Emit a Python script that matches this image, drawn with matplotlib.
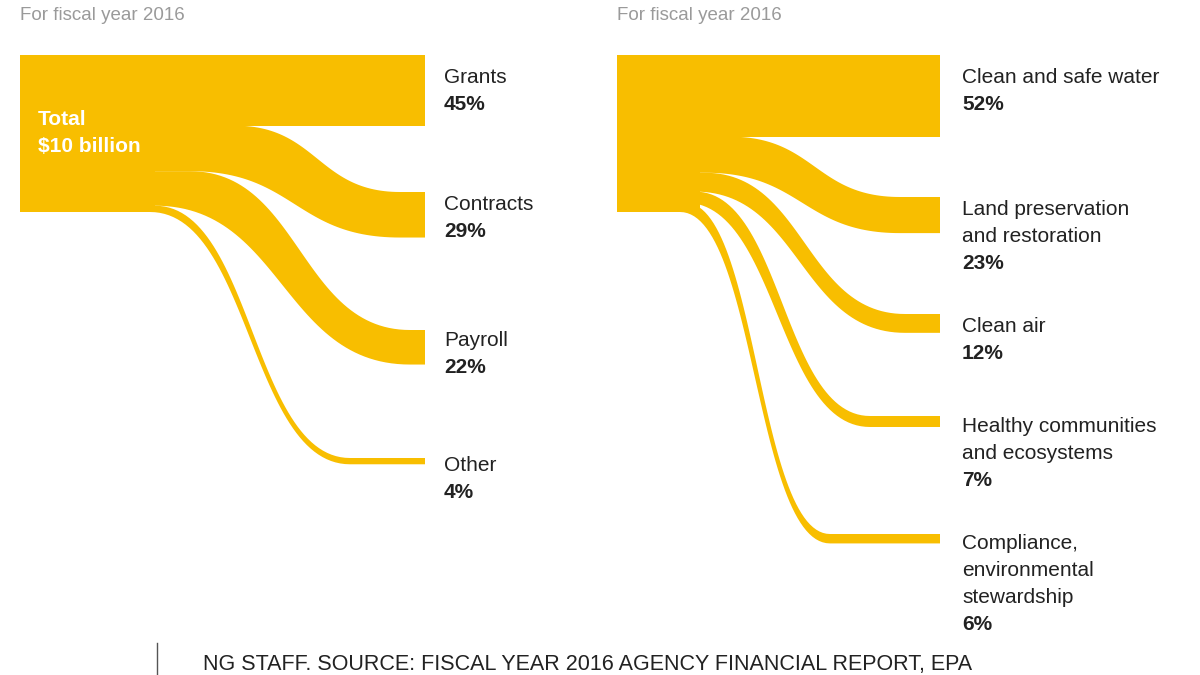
import numpy as np
import matplotlib.pyplot as plt

plt.rcParams['font.family'] = ['Liberation Sans', 'DejaVu Sans']
gold = '#F8BE00'

# data
left_names = ['Grants', 'Contracts', 'Payroll', 'Other']
left_shares = [45, 29, 22, 4]
right_names = ['Clean and safe water', 'Land preservation\nand restoration', 'Clean air',
               'Healthy communities\nand ecosystems', 'Compliance,\nenvironmental\nstewardship']
right_shares = [52, 23, 12, 7, 6]

# layout (pixel space)
top, H = 55, 157
left = dict(x0=20, xblock=155, xend=425, ends=[55, 192, 330, 458],
            xs_top=[None, 235, 190, 155], xs_bot=[None, 190, 155, 150],
            xe=[None, 400, 410, 350], lab_x=444, lab_y=[77, 204, 340, 465])
right = dict(x0=617, xblock=700, xend=940, ends=[55, 197, 314, 416, 534],
             xs_top=[None, 730, 705, 695, 685], xs_bot=[None, 705, 695, 685, 680],
             xe=[None, 900, 905, 870, 830], lab_x=962, lab_y=[77, 209, 326, 426, 543])
line_h = 27

fig = plt.figure(figsize=(12, 6.75), dpi=100)
ax = fig.add_axes([0, 0, 1, 1])
ax.set_xlim(0, 1200)
ax.set_ylim(675, 0)
ax.axis('off')


def curve(xs, ys, xe, ye, n=60):
    t = np.linspace(0, 1, n)
    xm = (xs + xe) / 2
    x = (1-t)**3*xs + 3*(1-t)**2*t*xm + 3*(1-t)*t**2*xm + t**3*xe
    y = (1-t)**3*ys + 3*(1-t)**2*t*ys + 3*(1-t)*t**2*ye + t**3*ye
    return x, y


def draw(side, names, shares):
    ax.add_patch(plt.Rectangle((side['x0'], top), side['xblock'] - side['x0'], H,
                               color=gold, lw=0))
    cum = top
    for i, (nm, s) in enumerate(zip(names, shares)):
        h = H * s / sum(shares)
        ye = side['ends'][i]
        if i == 0:
            ax.add_patch(plt.Rectangle((side['x0'], top), side['xend'] - side['x0'], h,
                                       color=gold, lw=0))
        else:
            xt, yt = curve(side['xs_top'][i], cum, side['xe'][i], ye)
            xb, yb = curve(side['xs_bot'][i], cum + h, side['xe'][i], ye + h)
            px = np.concatenate([[side['xblock'] - 5], xt, [side['xend'], side['xend']],
                                 xb[::-1], [side['xblock'] - 5]])
            py = np.concatenate([[cum], yt, [ye, ye + h], yb[::-1], [cum + h]])
            ax.fill(px, py, color=gold, lw=0)
        lx, ly = side['lab_x'], side['lab_y'][i] + 6  # baseline
        lines = nm.split('\n')
        for k, ln in enumerate(lines):
            ax.text(lx, ly + line_h * k, ln, fontsize=15, color='#222222', va='baseline')
        ax.text(lx, ly + line_h * len(lines), f'{s}%', fontsize=15, color='#222222',
                fontweight='bold', va='baseline')
        cum += h


draw(left, left_names, left_shares)
draw(right, right_names, right_shares)

ax.text(20, 20, 'For fiscal year 2016', fontsize=13.5, color='#9a9a9a', va='baseline')
ax.text(617, 20, 'For fiscal year 2016', fontsize=13.5, color='#9a9a9a', va='baseline')
ax.text(38, 125, 'Total', fontsize=15, color='white', fontweight='bold', va='baseline')
ax.text(38, 152, '$10 billion', fontsize=15, color='white', fontweight='bold', va='baseline')

ax.plot([157, 157], [643, 675], color='#555555', lw=1)
ax.text(203, 670, 'NG STAFF. SOURCE: FISCAL YEAR 2016 AGENCY FINANCIAL REPORT, EPA',
        fontsize=15.5, color='#222222', va='baseline')

fig.savefig('out.png', dpi=100, facecolor='white')
